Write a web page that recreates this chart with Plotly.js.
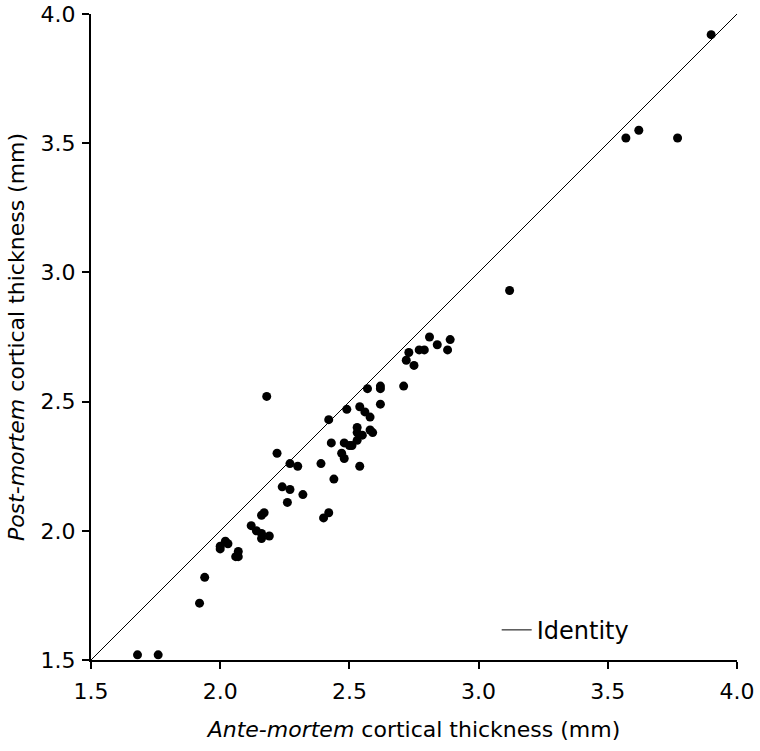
<!DOCTYPE html>
<html>
<head>
<meta charset="utf-8">
<script src="https://cdn.plot.ly/plotly-3.0.1.min.js"></script>
<style>
  html, body { margin: 0; padding: 0; background: #fff; }
  #chart { width: 760px; height: 751px; }
</style>
</head>
<body>
<div id="chart"></div>
<script>
// ante-mortem vs post-mortem cortical thickness (mm)
var anteMortem = [
    1.68, 1.76, 1.92, 1.94, 2.00, 2.00, 2.02, 2.03, 2.06, 2.07,
    2.07, 2.12, 2.14, 2.16, 2.16, 2.19, 2.16, 2.17, 2.18, 2.22,
    2.24, 2.27, 2.26, 2.27, 2.30, 2.32, 2.39, 2.40, 2.42, 2.42,
    2.43, 2.44, 2.47, 2.48, 2.48, 2.49, 2.50, 2.51, 2.53, 2.53,
    2.53, 2.55, 2.54, 2.54, 2.56, 2.58, 2.58, 2.59, 2.57, 2.62,
    2.62, 2.62, 2.71, 2.72, 2.73, 2.75, 2.77, 2.79, 2.81, 2.84,
    2.88, 2.89, 3.12, 3.57, 3.62, 3.77, 3.90
];
var postMortem = [
    1.52, 1.52, 1.72, 1.82, 1.94, 1.93, 1.96, 1.95, 1.90, 1.90,
    1.92, 2.02, 2.00, 1.97, 1.99, 1.98, 2.06, 2.07, 2.52, 2.30,
    2.17, 2.16, 2.11, 2.26, 2.25, 2.14, 2.26, 2.05, 2.07, 2.43,
    2.34, 2.20, 2.30, 2.28, 2.34, 2.47, 2.33, 2.33, 2.35, 2.38,
    2.40, 2.37, 2.25, 2.48, 2.46, 2.44, 2.39, 2.38, 2.55, 2.56,
    2.55, 2.49, 2.56, 2.66, 2.69, 2.64, 2.70, 2.70, 2.75, 2.72,
    2.70, 2.74, 2.93, 3.52, 3.55, 3.52, 3.92
];
var identityX = [1.5, 4.0];
var identityY = [1.5, 4.0];
var tickValues = [1.5, 2.0, 2.5, 3.0, 3.5, 4.0];
var tickLabels = ['1.5', '2.0', '2.5', '3.0', '3.5', '4.0'];

var FONT = 'DejaVu Sans, Verdana, sans-serif';

var identityTrace = {
    x: identityX,
    y: identityY,
    type: 'scatter',
    mode: 'lines',
    name: 'Identity',
    line: { color: '#000', width: 1 },
    showlegend: true
};

var pointsTrace = {
    x: anteMortem,
    y: postMortem,
    type: 'scatter',
    mode: 'markers',
    name: 'Subjects',
    marker: { color: '#000', size: 9 },
    showlegend: false,
    cliponaxis: false
};

var axisCommon = {
    range: [1.5, 4.0],
    tickmode: 'array',
    tickvals: tickValues,
    ticktext: tickLabels,
    showline: true,
    linecolor: '#000',
    linewidth: 2,
    ticks: 'outside',
    ticklen: 7,
    tickwidth: 2,
    tickcolor: '#000',
    showgrid: false,
    zeroline: false,
    tickfont: { family: FONT, size: 22, color: '#000' }
};

var layout = {
    width: 760,
    height: 751,
    margin: { t: 14, l: 91, r: 23, b: 91 },
    paper_bgcolor: '#fff',
    plot_bgcolor: '#fff',
    font: { family: FONT, color: '#000' },
    xaxis: Object.assign({}, axisCommon, {
        ticklabelstandoff: 4,
        title: { text: '<i>Ante-mortem</i> cortical thickness (mm)', font: { family: FONT, size: 22 }, standoff: 18 }
    }),
    yaxis: Object.assign({}, axisCommon, {
        ticklabelstandoff: 2,
        title: { text: '<i>Post-mortem</i> cortical thickness (mm)', font: { family: FONT, size: 22 }, standoff: 10 }
    }),
    legend: {
        x: 0.628,
        y: 0.046,
        xanchor: 'left',
        yanchor: 'middle',
        bgcolor: 'rgba(0,0,0,0)',
        font: { family: FONT, size: 24, color: '#000' }
    },
    showlegend: true
};

Plotly.newPlot('chart', [identityTrace, pointsTrace], layout, { displayModeBar: false, staticPlot: true });
</script>
</body>
</html>
